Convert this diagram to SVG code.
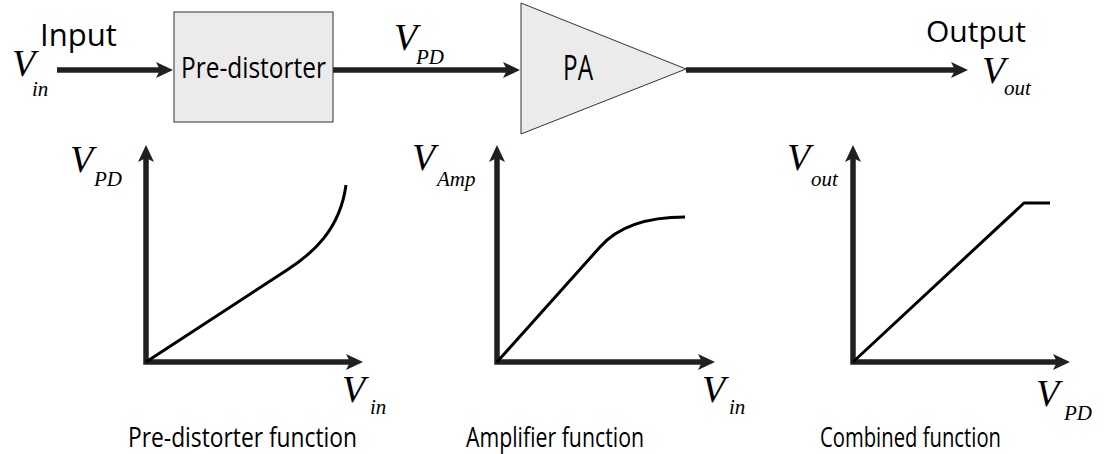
<svg xmlns="http://www.w3.org/2000/svg" width="1115" height="454" viewBox="0 0 1115 454">
<style>
.ln{fill:none;stroke:#231f20;stroke-width:5.5}
.cv{fill:none;stroke:#000;stroke-width:3;stroke-linejoin:round}
.sans{font-family:"Open Sans","DejaVu Sans",sans-serif;fill:#000}
.v{font-family:"Liberation Serif","DejaVu Serif",serif;font-style:italic;fill:#000;font-size:38px}
.sub{font-family:"Liberation Serif","DejaVu Serif",serif;font-style:italic;fill:#000;font-size:21px}
.blk{fill:#ebebeb;stroke:#333;stroke-width:1}
</style>
<defs>
<marker id="ah" viewBox="0 0 17 16" markerWidth="17" markerHeight="16" refX="5" refY="8" orient="auto-start-reverse" markerUnits="userSpaceOnUse">
<path d="M0,0 L17,8 L0,16 L4,8 z" fill="#231f20"/>
</marker>
</defs>
<g id="connectors">
<path class="ln" d="M57,70 L161,70" marker-end="url(#ah)"/>
<path class="ln" d="M333,70 L508,70" marker-end="url(#ah)"/>
<path class="ln" d="M686,70 L956,70" marker-end="url(#ah)"/>
</g>
<g id="input-label">
<text class="sans" x="40" y="46" font-size="31">Input</text>
<text class="v" x="12" y="76">V</text>
<text class="sub" x="32" y="96">in</text>
</g>
<g id="predistorter">
<rect class="blk" x="174" y="12" width="159" height="110"/>
<text class="sans" x="181" y="78" font-size="29" textLength="145" lengthAdjust="spacingAndGlyphs">Pre-distorter</text>
</g>
<g id="vpd-label">
<text class="v" x="394" y="50">V</text>
<text class="sub" x="416" y="64">PD</text>
</g>
<g id="pa">
<polygon class="blk" points="521,3 521,134 686,69"/>
<text class="sans" x="563" y="80" font-size="34" textLength="30" lengthAdjust="spacingAndGlyphs">PA</text>
</g>
<g id="output-label">
<text class="sans" x="926" y="42" font-size="30">Output</text>
<text class="v" x="982" y="83">V</text>
<text class="sub" x="1004" y="95">out</text>
</g>
<g id="chart-predistorter">
<path class="ln" d="M146,157 L146,362 L351,362" marker-start="url(#ah)" marker-end="url(#ah)"/>
<path class="cv" d="M146,362 L287,270 C312,254 340,230 346,185"/>
<text class="v" x="70" y="172">V</text>
<text class="sub" x="94" y="186">PD</text>
<text class="v" x="342" y="402">V</text>
<text class="sub" x="370" y="414">in</text>
<text class="sans" x="128" y="447" font-size="27" textLength="229" lengthAdjust="spacingAndGlyphs">Pre-distorter function</text>
</g>
<g id="chart-amplifier">
<path class="ln" d="M497,157 L497,362 L703,362" marker-start="url(#ah)" marker-end="url(#ah)"/>
<path class="cv" d="M497,362 L600,247 C615,230 640,217 685,217"/>
<text class="v" x="412" y="170">V</text>
<text class="sub" x="437" y="186">Amp</text>
<text class="v" x="702" y="402">V</text>
<text class="sub" x="729" y="414">in</text>
<text class="sans" x="466" y="447" font-size="27" textLength="178" lengthAdjust="spacingAndGlyphs">Amplifier function</text>
</g>
<g id="chart-combined">
<path class="ln" d="M853,157 L853,362 L1058,362" marker-start="url(#ah)" marker-end="url(#ah)"/>
<path class="cv" d="M853,362 L1024,203 L1050,203"/>
<text class="v" x="787" y="170">V</text>
<text class="sub" x="811" y="186">out</text>
<text class="v" x="1036" y="406">V</text>
<text class="sub" x="1064" y="420">PD</text>
<text class="sans" x="820" y="447" font-size="27" textLength="181" lengthAdjust="spacingAndGlyphs">Combined function</text>
</g>
</svg>
